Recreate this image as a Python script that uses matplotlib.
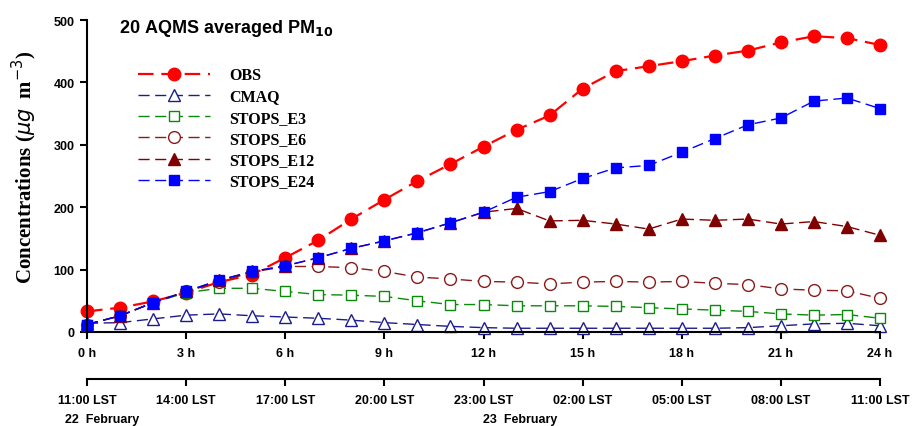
import matplotlib
matplotlib.use("Agg")
import matplotlib.pyplot as plt
import numpy as np

hours = np.arange(0, 25)

obs = [33, 39, 49, 63, 80, 92, 119, 147, 181, 212, 242, 269, 297, 324, 347,
       390, 418, 426, 434, 443, 451, 464, 474, 471, 460]
cmaq = [14, 15, 21, 27, 29, 26, 24, 22, 19, 15, 12, 9, 7, 6, 6,
        6, 6, 6, 6, 6, 7, 10, 13, 14, 10]
e3 = [12, 26, 47, 63, 70, 70, 65, 60, 59, 57, 50, 44, 44, 42, 42,
      42, 41, 39, 37, 35, 33, 29, 27, 28, 22]
e6 = [12, 26, 47, 65, 80, 96, 105, 105, 103, 97, 88, 85, 81, 80, 77,
      80, 81, 80, 81, 78, 76, 69, 67, 66, 54]
e12 = [12, 26, 47, 65, 83, 97, 106, 119, 134, 146, 159, 175, 192, 198, 178,
       179, 173, 165, 181, 179, 181, 173, 177, 169, 155]
e24 = [12, 26, 47, 65, 83, 97, 106, 119, 134, 146, 159, 175, 192, 216, 225,
       246, 263, 267, 288, 310, 332, 343, 370, 375, 358]

hour_ticks = [0, 3, 6, 9, 12, 15, 18, 21, 24]
hour_labels = ["%d h" % h for h in hour_ticks]
lst_labels = ["11:00 LST", "14:00 LST", "17:00 LST", "20:00 LST", "23:00 LST",
              "02:00 LST", "05:00 LST", "08:00 LST", "11:00 LST"]

sans = "Liberation Sans"
serif = "Liberation Serif"

fig = plt.figure(figsize=(9.19, 4.27), dpi=100)
ax = fig.add_axes([87 / 919, 1 - 333 / 427, 793 / 919, 312 / 427])

ax.plot(hours, obs, color="red", lw=1.6, dashes=(7, 3.5), marker="o", ms=9,
        mfc="red", mec="red", label="OBS")
ax.plot(hours, cmaq, color="#1c1c8c", lw=1.0, dashes=(8, 4), marker="^", ms=8,
        mfc="white", mec="#1c1c8c", mew=1.0, label="CMAQ")
ax.plot(hours, e3, color="#0a8a0a", lw=1.0, dashes=(8, 4), marker="s", ms=7.5,
        mfc="white", mec="#0a8a0a", mew=1.0, label="STOPS_E3")
ax.plot(hours, e6, color="#8b1a1a", lw=1.0, dashes=(8, 4), marker="o", ms=8.5,
        mfc="white", mec="#8b1a1a", mew=1.0, label="STOPS_E6")
ax.plot(hours, e12, color="#800000", lw=1.0, dashes=(8, 4), marker="^", ms=9,
        mfc="#800000", mec="#800000", label="STOPS_E12")
ax.plot(hours, e24, color="blue", lw=1.0, dashes=(8, 4), marker="s", ms=7.5,
        mfc="blue", mec="blue", label="STOPS_E24")

ax.set_xlim(0, 24)
ax.set_ylim(0, 500)
ax.set_xticks(hour_ticks)
ax.set_xticklabels(hour_labels, fontfamily=sans, fontweight="bold", fontsize=9)
ax.set_yticks([0, 100, 200, 300, 400, 500])
ax.set_yticklabels(["0", "100", "200", "300", "400", "500"],
                   fontfamily=sans, fontweight="bold", fontsize=9)
for s in ["top", "right"]:
    ax.spines[s].set_visible(False)
for s in ["left", "bottom"]:
    ax.spines[s].set_linewidth(1.5)
ax.tick_params(width=1.5, length=5)
ax.tick_params(axis="x", pad=6)
ax.tick_params(axis="y", pad=4)
for ln in ax.lines:
    ln.set_clip_on(False)

ax.set_ylabel(r"Concentrations ($\mu g$  m$^{-3}$)", fontfamily=serif,
              fontweight="bold", fontsize=15)
ax.yaxis.set_label_coords(-0.06, 0.53)

ax.text(0.04, 1.01, r"20 AQMS averaged PM$_{\mathbf{10}}$", transform=ax.transAxes,
        fontfamily=sans, fontweight="bold", fontsize=13, va="top", ha="left")

leg = ax.legend(loc="upper left", bbox_to_anchor=(0.046, 0.895), frameon=False,
                handlelength=4.5, handletextpad=1.2, labelspacing=0.33,
                prop={"family": serif, "weight": "bold", "size": 11.5})

# second time axis (local standard time)
ax2 = fig.add_axes([87 / 919, 1 - 380 / 427, 793 / 919, 0.001])
ax2.set_xlim(0, 24)
ax2.set_yticks([])
for s in ["top", "right", "left"]:
    ax2.spines[s].set_visible(False)
ax2.spines["bottom"].set_linewidth(1.5)
ax2.patch.set_visible(False)
ax2.set_xticks(hour_ticks)
ax2.set_xticklabels(lst_labels, fontfamily=sans, fontweight="bold", fontsize=9)
ax2.tick_params(width=1.5, length=5, pad=6)

fig.text(65 / 919, 1 - 420 / 427, "22  February", fontfamily=sans,
         fontweight="bold", fontsize=9, va="center")
fig.text(483 / 919, 1 - 420 / 427, "23  February", fontfamily=sans,
         fontweight="bold", fontsize=9, va="center")

fig.savefig("out.png", dpi=100)
